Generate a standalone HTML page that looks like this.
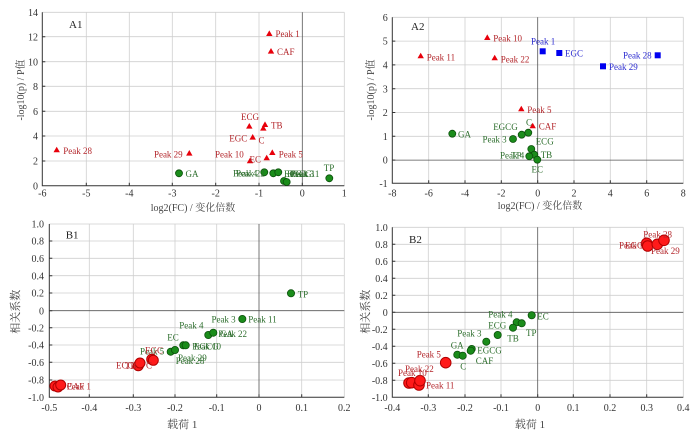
<!DOCTYPE html>
<html><head><meta charset="utf-8"><style>
html,body{margin:0;padding:0;background:#fff;}
svg{display:block;}
text{font-family:"Liberation Serif","Noto Serif CJK SC","Noto Sans CJK SC",serif;}
.tk{font-size:10px;fill:#333;}
.ti{font-size:10px;fill:#444;}
.lb{font-size:9px;}
.r{fill:#b3262b;} .g{fill:#2d6e2d;} .b{fill:#2b2bd0;}
.grid{stroke:#cfcfcf;stroke-width:0.8;fill:none;}
.zero{stroke:#555;stroke-width:0.8;}
.ax{stroke:#333;stroke-width:1;fill:none;}
.tri{fill:#e8000b;}
.gc{fill:#1a8c1a;stroke:#0b500b;stroke-width:0.8;}
.rc{fill:#ff1a1a;stroke:#b00000;stroke-width:1;}
.sq{fill:#0000f0;}
</style></head><body>
<svg width="700" height="431" viewBox="0 0 700 431" xmlns="http://www.w3.org/2000/svg">
<rect width="700" height="431" fill="#fff"/>

<!-- ================= A1 ================= -->
<g>
<path class="grid" d="M86.3 12.3V185.7M129.3 12.3V185.7M172.3 12.3V185.7M215.7 12.3V185.7M259 12.3V185.7M344.3 12.3V185.7M42.3 12.3H344.3M42.3 36.7H344.3M42.3 61.7H344.3M42.3 86.3H344.3M42.3 111.3H344.3M42.3 136H344.3M42.3 161H344.3"/>
<line class="zero" x1="302.3" y1="12.3" x2="302.3" y2="185.7"/>
<path class="ax" d="M42.3 12.3V185.7H344.3"/>
<path class="ax" d="M86.3 185.7v-3M129.3 185.7v-3M172.3 185.7v-3M215.7 185.7v-3M259 185.7v-3M302.3 185.7v-3M42.3 36.7h3M42.3 61.7h3M42.3 86.3h3M42.3 111.3h3M42.3 136h3M42.3 161h3"/>
<g class="tk" text-anchor="middle">
<text x="42.3" y="196.5">-6</text><text x="86.3" y="196.5">-5</text><text x="129.3" y="196.5">-4</text><text x="172.3" y="196.5">-3</text><text x="215.7" y="196.5">-2</text><text x="259" y="196.5">-1</text><text x="302.3" y="196.5">0</text><text x="344.3" y="196.5">1</text>
</g>
<g class="tk" text-anchor="end">
<text x="38" y="16">14</text><text x="38" y="40.3">12</text><text x="38" y="65.3">10</text><text x="38" y="90">8</text><text x="38" y="115">6</text><text x="38" y="139.6">4</text><text x="38" y="164.6">2</text><text x="38" y="189.3">0</text>
</g>
<text class="ti" x="193" y="211" text-anchor="middle">log2(FC) / 变化倍数</text>
<text class="ti" transform="translate(24,90) rotate(-90)" text-anchor="middle">-log10(p) / P值</text>
<text x="69" y="28" style="font-size:11px;fill:#222">A1</text>
<!-- triangles -->
<g class="tri">
<path d="M269.3 30.4l3.2 5.6h-6.4z"/><path d="M271 48l3.2 5.6h-6.4z"/><path d="M249.3 123l3.2 5.6h-6.4z"/><path d="M265 121.4l3.2 5.6h-6.4z"/><path d="M263.3 125l3.2 5.6h-6.4z"/><path d="M252.7 134l3.2 5.6h-6.4z"/><path d="M56.7 146.7l3.2 5.6h-6.4z"/><path d="M189.3 150l3.2 5.6h-6.4z"/><path d="M250 157.7l3.2 5.6h-6.4z"/><path d="M272.3 149.4l3.2 5.6h-6.4z"/><path d="M266.7 154.7l3.2 5.6h-6.4z"/>
</g>
<g class="lb r">
<text x="275.5" y="37">Peak 1</text><text x="277" y="54.8">CAF</text><text x="250" y="120" text-anchor="middle">ECG</text><text x="271" y="128.6">TB</text><text x="247.3" y="141.3" text-anchor="end">EGC</text><text x="258.5" y="143.3">C</text><text x="63.3" y="153.8">Peak 28</text><text x="182.7" y="157.3" text-anchor="end">Peak 29</text><text x="215" y="157.3">Peak 10</text><text x="249.5" y="162.6">EC</text><text x="278.7" y="157.3">Peak 5</text>
</g>
<g class="gc">
<circle cx="179" cy="173.3" r="3.5"/><circle cx="264.3" cy="172.3" r="3.5"/><circle cx="273.3" cy="173.3" r="3.5"/><circle cx="278.3" cy="172.3" r="3.5"/><circle cx="284" cy="181" r="3.5"/><circle cx="286.7" cy="182" r="3.5"/><circle cx="329.3" cy="178.3" r="3.5"/>
</g>
<g class="lb g">
<text x="185.5" y="176.8">GA</text><text x="329" y="171" text-anchor="middle">TP</text><text x="233" y="176.5">Peak 4</text><text x="236" y="176.5">Peak 22</text><text x="284" y="177">ECG</text><text x="287" y="177">EGCG</text><text x="290" y="177">Peak 3</text><text x="291" y="177">Peak 11</text>
</g>
</g>

<!-- ================= A2 ================= -->
<g>
<path class="grid" d="M428.7 17.3V183.3M465 17.3V183.3M501.3 17.3V183.3M574 17.3V183.3M610.3 17.3V183.3M646.7 17.3V183.3M683.3 17.3V183.3M392.3 17.3H683.3M392.3 41.1H683.3M392.3 64.9H683.3M392.3 88.7H683.3M392.3 112.5H683.3M392.3 136.3H683.3"/>
<line class="zero" x1="537.7" y1="17.3" x2="537.7" y2="183.3"/>
<line class="zero" x1="392.3" y1="160.1" x2="683.3" y2="160.1"/>
<path class="ax" d="M392.3 17.3V183.3H683.3"/>
<path class="ax" d="M428.7 183.3v-3M465 183.3v-3M501.3 183.3v-3M537.7 183.3v-3M574 183.3v-3M610.3 183.3v-3M646.7 183.3v-3M392.3 41.1h3M392.3 64.9h3M392.3 88.7h3M392.3 112.5h3M392.3 136.3h3M392.3 160.1h3"/>
<g class="tk" text-anchor="middle">
<text x="392.3" y="196.5">-8</text><text x="428.7" y="196.5">-6</text><text x="465" y="196.5">-4</text><text x="501.3" y="196.5">-2</text><text x="537.7" y="196.5">0</text><text x="574" y="196.5">2</text><text x="610.3" y="196.5">4</text><text x="646.7" y="196.5">6</text><text x="683.3" y="196.5">8</text>
</g>
<g class="tk" text-anchor="end">
<text x="387.7" y="21">6</text><text x="387.7" y="44.7">5</text><text x="387.7" y="68.5">4</text><text x="387.7" y="92.3">3</text><text x="387.7" y="116.1">2</text><text x="387.7" y="139.9">1</text><text x="387.7" y="163.7">0</text><text x="387.7" y="186.9">-1</text>
</g>
<text class="ti" x="540" y="209" text-anchor="middle">log2(FC) / 变化倍数</text>
<text class="ti" transform="translate(374,90) rotate(-90)" text-anchor="middle">-log10(p) / P值</text>
<text x="411" y="30" style="font-size:11px;fill:#222">A2</text>
<g class="tri">
<path d="M487.3 34.4l3.2 5.6h-6.4z"/><path d="M420.7 52.7l3.2 5.6h-6.4z"/><path d="M494.7 54.7l3.2 5.6h-6.4z"/><path d="M521.3 105.7l3.2 5.6h-6.4z"/><path d="M532.7 122.7l3.2 5.6h-6.4z"/>
</g>
<g class="lb r">
<text x="493.3" y="41.6">Peak 10</text><text x="426.7" y="60.3">Peak 11</text><text x="500.7" y="62.3">Peak 22</text><text x="527.3" y="113">Peak 5</text><text x="538.7" y="129.6">CAF</text>
</g>
<g class="sq">
<rect x="539.7" y="48.3" width="6" height="6"/><rect x="556.3" y="50" width="6" height="6"/><rect x="654.7" y="52.3" width="6" height="6"/><rect x="600" y="63.3" width="6" height="6"/>
</g>
<g class="lb b">
<text x="531" y="44.6">Peak 1</text><text x="565" y="56.3">EGC</text><text x="651.7" y="58.6" text-anchor="end">Peak 28</text><text x="609" y="70">Peak 29</text>
</g>
<g class="gc">
<circle cx="452.3" cy="133.7" r="3.5"/><circle cx="513" cy="139" r="3.5"/><circle cx="521.7" cy="134.7" r="3.5"/><circle cx="528.3" cy="132.7" r="3.5"/><circle cx="531.3" cy="149" r="3.5"/><circle cx="534.3" cy="154.7" r="3.5"/><circle cx="529.3" cy="156.3" r="3.5"/><circle cx="537.3" cy="159.7" r="3.5"/>
</g>
<g class="lb g">
<text x="458" y="137.3">GA</text><text x="517.7" y="130" text-anchor="end">EGCG</text><text x="526" y="125.3">C</text><text x="506.7" y="142.6" text-anchor="end">Peak 3</text><text x="535.7" y="144.6">ECG</text><text x="540.7" y="158">TB</text><text x="537.3" y="172.6" text-anchor="middle">EC</text><text x="500" y="158.6">Peak 4</text><text x="511" y="158.6">TP</text>
</g>
</g>

<!-- ================= B1 ================= -->
<g>
<path class="grid" d="M89.3 224V397.3M133.3 224V397.3M175 224V397.3M216.7 224V397.3M301.7 224V397.3M344.3 224V397.3M49.3 224H344.3M49.3 241H344.3M49.3 258.3H344.3M49.3 275.7H344.3M49.3 293H344.3M49.3 327.7H344.3M49.3 345H344.3M49.3 362.3H344.3M49.3 380H344.3"/>
<line class="zero" x1="259" y1="224" x2="259" y2="397.3"/>
<line class="zero" x1="49.3" y1="310.7" x2="344.3" y2="310.7"/>
<path class="ax" d="M49.3 224V397.3H344.3"/>
<path class="ax" d="M89.3 397.3v-3M133.3 397.3v-3M175 397.3v-3M216.7 397.3v-3M259 397.3v-3M301.7 397.3v-3M49.3 241h3M49.3 258.3h3M49.3 275.7h3M49.3 293h3M49.3 310.7h3M49.3 327.7h3M49.3 345h3M49.3 362.3h3M49.3 380h3"/>
<g class="tk" text-anchor="middle">
<text x="49.3" y="411">-0.5</text><text x="89.3" y="411">-0.4</text><text x="133.3" y="411">-0.3</text><text x="175" y="411">-0.2</text><text x="216.7" y="411">-0.1</text><text x="259" y="411">0</text><text x="301.7" y="411">0.1</text><text x="344.3" y="411">0.2</text>
</g>
<g class="tk" text-anchor="end">
<text x="44" y="227.6">1.0</text><text x="44" y="244.6">0.8</text><text x="44" y="261.9">0.6</text><text x="44" y="279.3">0.4</text><text x="44" y="296.6">0.2</text><text x="44" y="314.3">0</text><text x="44" y="331.3">-0.2</text><text x="44" y="348.6">-0.4</text><text x="44" y="365.9">-0.6</text><text x="44" y="383.6">-0.8</text><text x="44" y="400.9">-1.0</text>
</g>
<text class="ti" x="182.3" y="428" text-anchor="middle" style="font-size:11px">载荷 1</text>
<text class="ti" transform="translate(19,311.7) rotate(-90)" text-anchor="middle" style="font-size:11px">相关系数</text>
<text x="65.7" y="238.3" style="font-size:11px;fill:#222">B1</text>
<g class="gc">
<circle cx="291" cy="293.3" r="3.6"/><circle cx="242.3" cy="319" r="3.6"/><circle cx="208.3" cy="335" r="3.6"/><circle cx="213.3" cy="332.7" r="3.6"/><circle cx="183.3" cy="345.3" r="3.6"/><circle cx="185.7" cy="345.3" r="3.6"/><circle cx="170.7" cy="351.7" r="3.6"/><circle cx="175" cy="350" r="3.6"/>
</g>
<g class="lb g">
<text x="297.7" y="297.3">TP</text><text x="235.7" y="322.6" text-anchor="end">Peak 3</text><text x="248.3" y="322.6">Peak 11</text><text x="179.3" y="328.3">Peak 4</text><text x="218.3" y="337">Peak 22</text><text x="220" y="337">GA</text><text x="167.3" y="340.6">EC</text><text x="192.3" y="349.3">Peak 10</text><text x="194" y="349.3">EGCG</text><text x="140" y="354.3">Peak 5</text><text x="175.7" y="364">Peak 28</text><text x="178" y="361">Peak 29</text>
</g>
<g class="rc">
<circle cx="151.7" cy="359.3" r="5"/><circle cx="153.3" cy="360.3" r="5"/><circle cx="138.3" cy="365.7" r="5"/><circle cx="140" cy="363" r="5"/><circle cx="55" cy="386" r="5"/><circle cx="58" cy="387" r="5"/><circle cx="60.7" cy="385" r="5"/>
</g>
<g class="lb r">
<text x="145" y="353.6">EGC</text><text x="116" y="368.3">ECG</text><text x="125" y="369">TB</text><text x="146" y="368.3">C</text><text x="66.7" y="389.6">CAF</text><text x="66.7" y="389.6">Peak 1</text>
</g>
</g>

<!-- ================= B2 ================= -->
<g>
<path class="grid" d="M428.3 227.3V397.3M465 227.3V397.3M501 227.3V397.3M573.3 227.3V397.3M610 227.3V397.3M646.7 227.3V397.3M683.3 227.3V397.3M392.3 227.3H683.3M392.3 244.3H683.3M392.3 261.3H683.3M392.3 278.3H683.3M392.3 295.3H683.3M392.3 329.3H683.3M392.3 346.3H683.3M392.3 363.3H683.3M392.3 380.3H683.3"/>
<line class="zero" x1="537.7" y1="227.3" x2="537.7" y2="397.3"/>
<line class="zero" x1="392.3" y1="312.3" x2="683.3" y2="312.3"/>
<path class="ax" d="M392.3 227.3V397.3H683.3"/>
<path class="ax" d="M428.3 397.3v-3M465 397.3v-3M501 397.3v-3M537.7 397.3v-3M573.3 397.3v-3M610 397.3v-3M646.7 397.3v-3M392.3 244.3h3M392.3 261.3h3M392.3 278.3h3M392.3 295.3h3M392.3 312.3h3M392.3 329.3h3M392.3 346.3h3M392.3 363.3h3M392.3 380.3h3"/>
<g class="tk" text-anchor="middle">
<text x="392.3" y="411">-0.4</text><text x="428.3" y="411">-0.3</text><text x="465" y="411">-0.2</text><text x="501" y="411">-0.1</text><text x="537.7" y="411">0</text><text x="573.3" y="411">0.1</text><text x="610" y="411">0.2</text><text x="646.7" y="411">0.3</text><text x="683.3" y="411">0.4</text>
</g>
<g class="tk" text-anchor="end">
<text x="387.7" y="230.9">1.0</text><text x="387.7" y="247.9">0.8</text><text x="387.7" y="264.9">0.6</text><text x="387.7" y="281.9">0.4</text><text x="387.7" y="298.9">0.2</text><text x="387.7" y="315.9">0</text><text x="387.7" y="332.9">-0.2</text><text x="387.7" y="349.9">-0.4</text><text x="387.7" y="366.9">-0.6</text><text x="387.7" y="383.9">-0.8</text><text x="387.7" y="400.9">-1.0</text>
</g>
<text class="ti" x="530" y="428" text-anchor="middle" style="font-size:11px">载荷 1</text>
<text class="ti" transform="translate(369,311.7) rotate(-90)" text-anchor="middle" style="font-size:11px">相关系数</text>
<text x="409" y="243" style="font-size:11px;fill:#222">B2</text>
<g class="rc">
<circle cx="646.7" cy="243.3" r="5.3"/><circle cx="647.7" cy="246" r="5.3"/><circle cx="657.3" cy="244.3" r="5.3"/><circle cx="664" cy="240.3" r="5.3"/><circle cx="445.7" cy="362.7" r="5.3"/><circle cx="409" cy="383" r="5.3"/><circle cx="411.7" cy="382.7" r="5.3"/><circle cx="419" cy="385" r="5.3"/><circle cx="420" cy="380.7" r="5.3"/>
</g>
<g class="lb r">
<text x="643.3" y="237.6">Peak 28</text><text x="651" y="254">Peak 29</text><text x="643.3" y="248.3" text-anchor="end">Peak 1</text><text x="643" y="248.3" text-anchor="end">EGC</text><text x="416.7" y="357.6">Peak 5</text><text x="398" y="376">Peak 10</text><text x="405" y="372">Peak 22</text><text x="426" y="388.3">Peak 11</text>
</g>
<g class="gc">
<circle cx="531.7" cy="315.3" r="3.6"/><circle cx="516.7" cy="322.3" r="3.6"/><circle cx="521.7" cy="323.3" r="3.6"/><circle cx="513" cy="327.7" r="3.6"/><circle cx="497.7" cy="335" r="3.6"/><circle cx="486.3" cy="341.7" r="3.6"/><circle cx="471.7" cy="349" r="3.6"/><circle cx="470.7" cy="350.7" r="3.6"/><circle cx="457.3" cy="354.7" r="3.6"/><circle cx="462.7" cy="355.7" r="3.6"/>
</g>
<g class="lb g">
<text x="537.3" y="319.3">EC</text><text x="488.3" y="317.3">Peak 4</text><text x="488.3" y="328.3">ECG</text><text x="507.3" y="341.6">TB</text><text x="526" y="336">TP</text><text x="457.3" y="336.6">Peak 3</text><text x="477.3" y="353.3">EGCG</text><text x="450.7" y="348.3">GA</text><text x="463.3" y="369.3" text-anchor="middle">C</text><text x="475.7" y="364">CAF</text>
</g>
</g>
</svg>
</body></html>
